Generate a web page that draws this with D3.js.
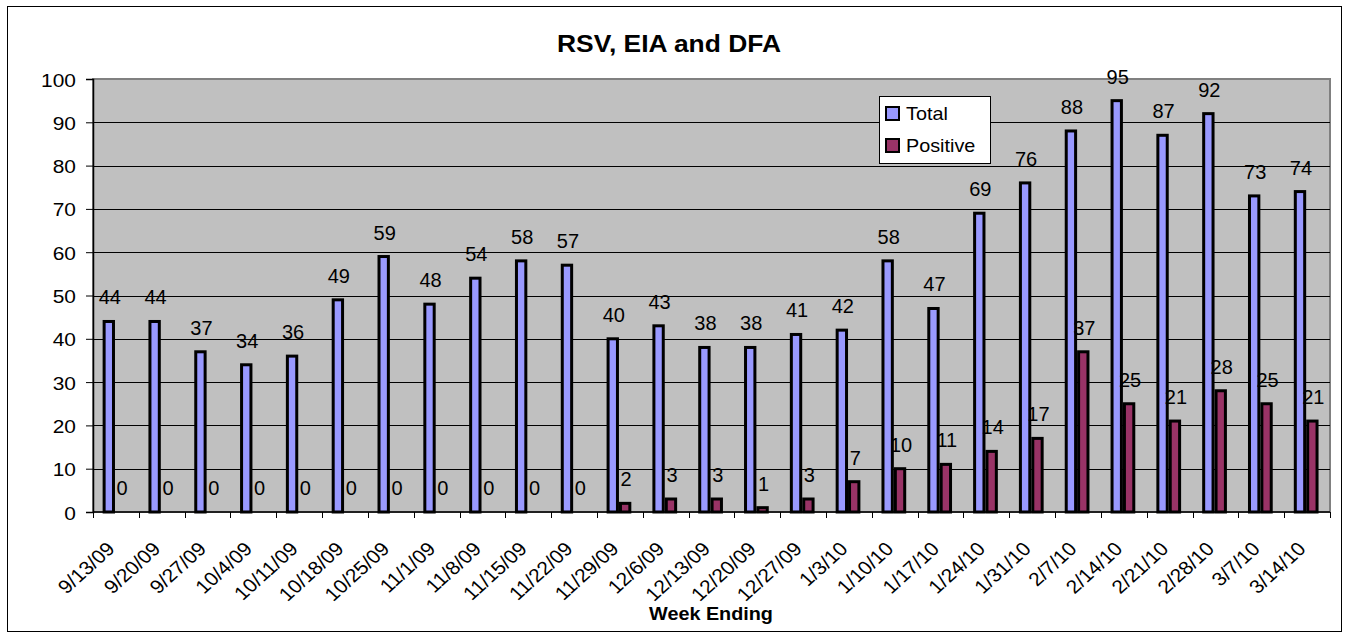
<!DOCTYPE html>
<html>
<head>
<meta charset="utf-8">
<script src="https://cdn.jsdelivr.net/npm/d3@7"></script>
<style>
	body { margin: 0; background: #fff; }
	text { font-family: "Liberation Sans", Arial, sans-serif; fill: #000; }
</style>
</head>
<body>
<div id="chart"></div>
<script>
const weeks = ['9/13/09', '9/20/09', '9/27/09', '10/4/09', '10/11/09', '10/18/09', '10/25/09', '11/1/09', '11/8/09',
	'11/15/09', '11/22/09', '11/29/09', '12/6/09', '12/13/09', '12/20/09', '12/27/09', '1/3/10', '1/10/10', '1/17/10',
	'1/24/10', '1/31/10', '2/7/10', '2/14/10', '2/21/10', '2/28/10', '3/7/10', '3/14/10']
const total = [44, 44, 37, 34, 36, 49, 59, 48, 54, 58, 57, 40, 43, 38, 38, 41, 42, 58, 47, 69, 76, 88, 95, 87, 92, 73, 74]
const positive = [0, 0, 0, 0, 0, 0, 0, 0, 0, 0, 0, 2, 3, 3, 1, 3, 7, 10, 11, 14, 17, 37, 25, 21, 28, 25, 21]
const seriesNames = ['Total', 'Positive']
const yTicks = [0, 10, 20, 30, 40, 50, 60, 70, 80, 90, 100]

const colors = { Total: '#9999ff', Positive: '#993366' }

const width = 1349
const height = 639
const plot = { left: 93, right: 1330, top: 79, bottom: 512 }
const stretch = 1.1

const svg = d3.select('#chart').append('svg')
	.attr('width', width)
	.attr('height', height)

// outer chart border
svg.append('rect')
	.attr('x', 7.5).attr('y', 6.5)
	.attr('width', 1334).attr('height', 625)
	.attr('fill', '#fff')
	.attr('stroke', '#000')

const x0 = d3.scaleBand()
	.domain(weeks)
	.range([plot.left, plot.right])
	.padding(0)

const x1 = d3.scaleBand()
	.domain(seriesNames)
	.range([x0.bandwidth() * 0.21, x0.bandwidth() * 0.75])

const y = d3.scaleLinear()
	.domain([0, 100])
	.range([plot.bottom, plot.top])

// plot area
svg.append('rect')
	.attr('x', plot.left).attr('y', plot.top)
	.attr('width', plot.right - plot.left).attr('height', plot.bottom - plot.top)
	.attr('fill', '#c0c0c0')
	.attr('stroke', '#808080')
	.attr('stroke-width', 2)

// gridlines
svg.append('g').selectAll('line')
	.data(yTicks.filter(t => t > 0 && t < 100))
	.enter()
	.append('line')
	.attr('x1', plot.left).attr('x2', plot.right)
	.attr('y1', d => Math.round(y(d)) + 0.5).attr('y2', d => Math.round(y(d)) + 0.5)
	.attr('stroke', '#000')

// y axis
const yAxis = svg.append('g')
	.attr('transform', `translate(${plot.left},0)`)
	.call(d3.axisLeft(y).tickValues(yTicks).tickSize(7).tickPadding(0).tickFormat(d3.format('d')))
yAxis.select('.domain').attr('stroke', '#000').attr('stroke-width', 1.5)
yAxis.selectAll('.tick line').attr('stroke', '#000')
yAxis.selectAll('.tick text')
	.attr('font-size', 19)
	.attr('x', null).attr('dy', null)
	.attr('text-anchor', 'end')
	.attr('transform', `translate(-17,7) scale(${stretch},1)`)

// x axis line and ticks at category boundaries
svg.append('line')
	.attr('x1', plot.left).attr('x2', plot.right)
	.attr('y1', plot.bottom).attr('y2', plot.bottom)
	.attr('stroke', '#000').attr('stroke-width', 1.5)

const boundaries = weeks.map(w => x0(w)).concat([x0(weeks[weeks.length - 1]) + x0.bandwidth()])
svg.append('g').selectAll('line')
	.data(boundaries)
	.enter()
	.append('line')
	.attr('x1', d => Math.round(d) + 0.5).attr('x2', d => Math.round(d) + 0.5)
	.attr('y1', plot.bottom).attr('y2', plot.bottom + 6)
	.attr('stroke', '#000')

svg.append('g').selectAll('text')
	.data(weeks)
	.enter()
	.append('text')
	.attr('font-size', 19)
	.attr('text-anchor', 'end')
	.attr('transform', d => `translate(${x0(d) + x0.bandwidth() / 2},550) scale(${stretch},1) rotate(-45)`)
	.text(d => d)

// bars
const rows = weeks.map((w, i) => ({ week: w, values: [
	{ key: 'Total', value: total[i] },
	{ key: 'Positive', value: positive[i] }
] }))

const groups = svg.append('g').selectAll('g')
	.data(rows)
	.enter()
	.append('g')
	.attr('transform', d => `translate(${x0(d.week)},0)`)

groups.selectAll('rect')
	.data(d => d.values)
	.enter()
	.append('rect')
	.attr('x', d => x1(d.key) + 1.5)
	.attr('y', d => y(d.value))
	.attr('width', x1.bandwidth() - 3)
	.attr('height', d => y(0) - y(d.value))
	.attr('fill', d => colors[d.key])
	.attr('stroke', '#000')
	.attr('stroke-width', 3)
	.attr('display', d => d.value > 0 ? null : 'none')

groups.selectAll('text')
	.data(d => d.values)
	.enter()
	.append('text')
	.attr('font-size', 20)
	.attr('text-anchor', 'middle')
	.attr('x', d => x1(d.key) + x1.bandwidth() / 2 + 1)
	.attr('y', d => y(d.value) - 17)
	.text(d => d.value)

// title
svg.append('text')
	.attr('font-size', 24)
	.attr('font-weight', 'bold')
	.attr('text-anchor', 'middle')
	.attr('transform', `translate(669,52) scale(${stretch},1)`)
	.text('RSV, EIA and DFA')

svg.append('text')
	.attr('font-size', 18)
	.attr('font-weight', 'bold')
	.attr('text-anchor', 'middle')
	.attr('transform', `translate(711,620) scale(${stretch},1)`)
	.text('Week Ending')

// legend
const legend = svg.append('g').attr('transform', 'translate(879,96)')
legend.append('rect')
	.attr('x', 0.5).attr('y', 0.5)
	.attr('width', 111).attr('height', 67)
	.attr('fill', '#fff')
	.attr('stroke', '#000')

const items = legend.selectAll('g')
	.data(seriesNames)
	.enter()
	.append('g')
	.attr('transform', (d, i) => `translate(0,${11 + i * 32})`)

items.append('rect')
	.attr('x', 7).attr('y', 0)
	.attr('width', 13).attr('height', 13)
	.attr('fill', d => colors[d])
	.attr('stroke', '#000')
	.attr('stroke-width', 2)

items.append('text')
	.attr('font-size', 18)
	.attr('transform', `translate(27,13) scale(${stretch},1)`)
	.text(d => d)
</script>
</body>
</html>
